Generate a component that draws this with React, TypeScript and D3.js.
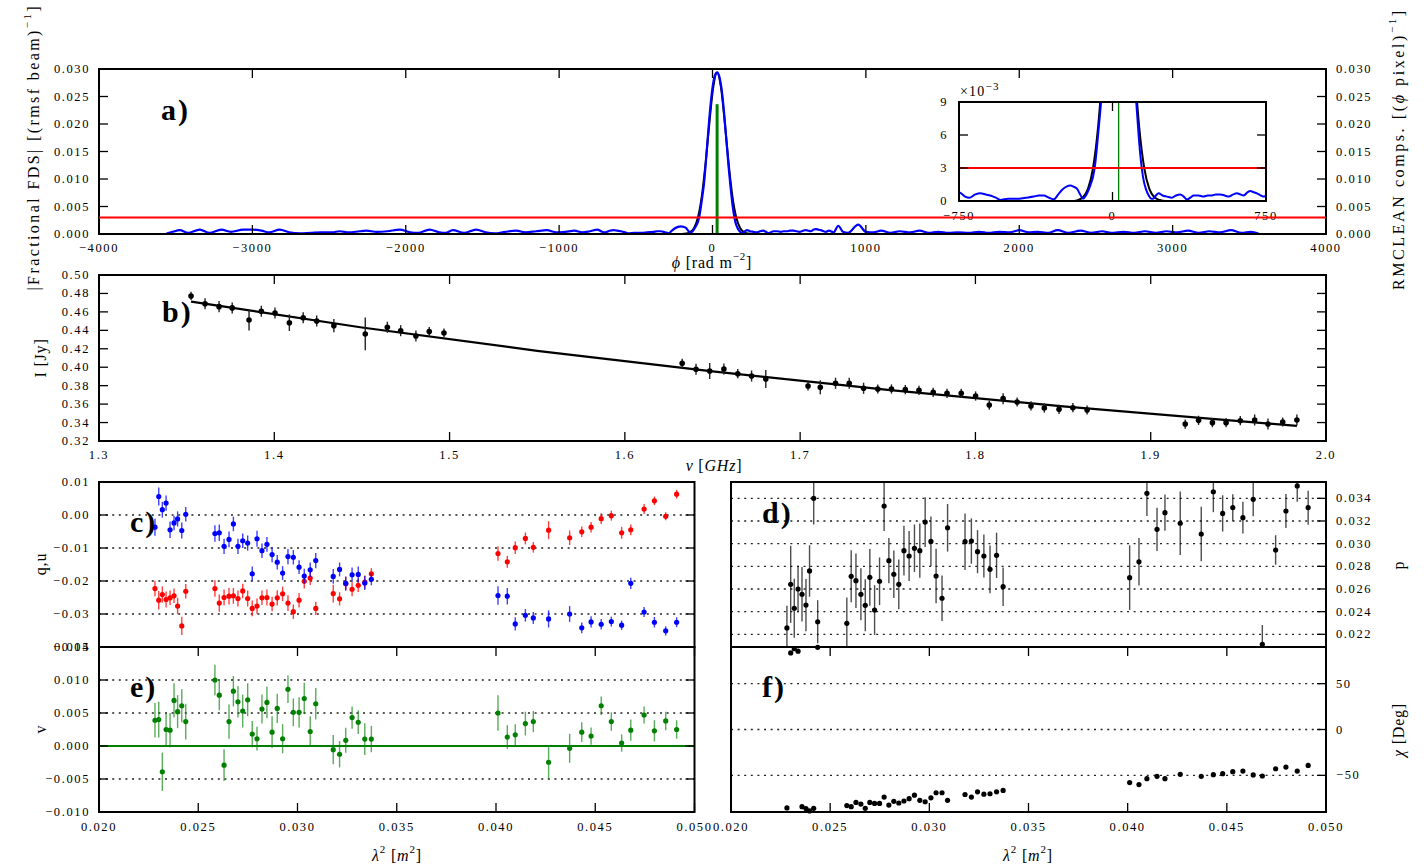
import React from "react";
import * as d3 from "d3";

const FONT = "'Liberation Serif','Times New Roman',serif";

// ---------------- Panel a : Faraday dispersion spectrum ----------------
const fdsPhi = [
  -3560, -3520, -3473, -3420, -3343, -3280, -3202, -3140, -3060, -3002, -2940, -2890, -2822, -2760, -2690, -2620,
  -2550, -2480, -2431, -2370, -2300, -2257, -2190, -2120, -2040, -1970, -1920, -1845, -1780, -1740, -1693, -1620,
  -1541, -1480, -1420, -1350, -1280, -1220, -1150, -1080, -1020, -960, -900, -850, -800,
  -750, -720, -700, -670, -646, -620, -597, -570, -548, -510, -467, -425, -385, -360, -336, -310, -287, -265, -247,
  -225, -206, -190, -173, -158, -144, -130, -117, -105, -95, -85, -76, -66, -56, -45, -30, -15, 0, 15, 30, 45, 60,
  75, 90, 105, 116, 128, 138, 149, 163, 177, 190, 198, 212, 225, 245, 266, 290, 310, 331, 348, 364, 380, 397, 420,
  445, 465, 486, 505, 527, 548, 568, 590, 608, 625, 641, 660, 673, 690, 706, 725, 739, 760,
  790, 820, 850, 883, 950, 1000, 1050, 1100, 1160, 1220, 1290, 1350, 1410, 1470, 1540, 1600, 1670, 1740, 1800,
  1870, 1940, 2000, 2060, 2120, 2190, 2250, 2320, 2400, 2470, 2540, 2600, 2680, 2750, 2820, 2890, 2960, 3030,
  3100, 3170, 3240, 3310, 3380, 3450, 3510, 3560,
];
const fdsAmp = [
  0.0001, 0.0004, 0.0007, 0.0002, 0.0008, 0.0002, 0.0008, 0.0004, 0.0008, 0.0008, 0.0006, 0.0003, 0.0008, 0.0003, 0.0001, 0.0002,
  0.0003, 0.0003, 0.0005, 0.0003, 0.0005, 0.0006, 0.0004, 0.0005, 0.0008, 0.0003, 0.0002, 0.0008, 0.0003, 0.0002, 0.0007, 0.0002,
  0.0008, 0.0003, 0.0001, 0.0004, 0.0006, 0.0003, 0.0005, 0.0007, 0.0003, 0.0004, 0.0006, 0.0003, 0.0005,
  0.0008, 0.0004, 0.0003, 0.0006, 0.0007, 0.0006, 0.0005, 0.0003, 0.0001, 0.0002, 0.0002, 0.0003, 0.0004, 0.0005, 0.0005, 0.0003, 0.00015, 0.0006, 0.001,
  0.0013, 0.0014, 0.0013, 0.0011, 0.0006, 0.0002, 0.0005, 0.001, 0.0016, 0.0022, 0.0033, 0.0049, 0.0069, 0.009, 0.0125, 0.0178, 0.0228, 0.0266, 0.0288, 0.0294, 0.0286, 0.0262,
  0.0222, 0.0172, 0.0122, 0.009, 0.0059, 0.0038, 0.0022, 0.0011, 0.0005, 0.0002, 0.0002, 0.0005, 0.0007, 0.0005, 0.0004, 0.0003, 0.0005, 0.0006, 0.0004, 0.00015, 0.0003, 0.0005, 0.0005,
  0.0004, 0.0005, 0.0005, 0.0006, 0.0006, 0.0005, 0.0004, 0.0006, 0.0007, 0.0006, 0.0005, 0.0008, 0.0009, 0.0008, 0.0007, 0.0005, 0.0004, 0.0006,
  0.0003, 0.0015, 0.0004, 0.0002, 0.0017, 0.0004, 0.0003, 0.0006, 0.0002, 0.0005, 0.0003, 0.0006, 0.0002, 0.0004, 0.0002, 0.0003, 0.0002, 0.0004, 0.0002,
  0.0004, 0.0003, 0.0007, 0.0003, 0.0004, 0.0002, 0.0007, 0.0002, 0.0006, 0.0002, 0.0005, 0.0002, 0.0004, 0.0002, 0.0005, 0.0002, 0.0005, 0.0003,
  0.0006, 0.0002, 0.0005, 0.0003, 0.0007, 0.0002, 0.0004, 0.0001,
];
const modelPhi = [-3560, -200, -170, -145, -120, -95, -70, -45, -20, 5, 30, 55, 80, 105, 130, 155, 180, 205, 230, 260, 3560];
const modelAmp = [0, 0, 0.00008, 0.00034, 0.0011, 0.003, 0.0068, 0.0129, 0.0203, 0.0267, 0.0293, 0.0267, 0.0203, 0.0129, 0.0068, 0.003, 0.0011, 0.00034, 0.00009, 0, 0];
const cleanCompPhi = [30];
const cleanCompAmp = [0.0236];
const thresholdLevel = [0.003];

const aXTicks = [-4000, -3000, -2000, -1000, 0, 1000, 2000, 3000, 4000];
const aYTicks = [0, 0.005, 0.01, 0.015, 0.02, 0.025, 0.03];
const insetXTicks = [-750, 0, 750];
const insetYTicks = [0, 3, 6, 9];

// ---------------- Panel b : Stokes I ----------------
const freqGHz = [
  1.3525, 1.3605, 1.3685, 1.376, 1.3856, 1.3926, 1.4004, 1.4086, 1.4165, 1.4242, 1.434, 1.4519, 1.4645, 1.4721, 1.4808, 1.4884, 1.4968,
  1.6327, 1.6406, 1.6484, 1.6565, 1.6644, 1.6723, 1.6804, 1.7045, 1.7115, 1.7202, 1.728, 1.7362, 1.7443, 1.7521, 1.76, 1.7678,
  1.7759, 1.7838, 1.7919, 1.8001, 1.8079, 1.8158, 1.8238, 1.8317, 1.8393, 1.8477, 1.8556, 1.8637, 1.9197, 1.9273, 1.9352, 1.943,
  1.9511, 1.9593, 1.9669, 1.9753, 1.9834,
];
const stokesI = [
  0.4773, 0.4689, 0.4657, 0.4643, 0.4512, 0.4607, 0.4588, 0.4483, 0.4537, 0.4501, 0.4451, 0.4361, 0.4433, 0.4396, 0.4339, 0.4386, 0.4371,
  0.4043, 0.3978, 0.3959, 0.3981, 0.393, 0.3905, 0.3872, 0.3797, 0.3782, 0.3826, 0.3826, 0.3772, 0.3764, 0.3764, 0.3757, 0.375,
  0.3728, 0.3717, 0.3717, 0.3688, 0.359, 0.3659, 0.3623, 0.358, 0.3558, 0.3544, 0.3561, 0.3536, 0.3384, 0.3424, 0.3399, 0.3399,
  0.342, 0.3428, 0.3384, 0.3406, 0.3428,
];
const stokesIErr = [
  0.0045, 0.006, 0.006, 0.006, 0.0115, 0.006, 0.006, 0.009, 0.006, 0.006, 0.0072, 0.0177, 0.006, 0.006, 0.006, 0.005, 0.005,
  0.005, 0.006, 0.0087, 0.006, 0.005, 0.006, 0.0098, 0.005, 0.0076, 0.006, 0.006, 0.006, 0.005, 0.005, 0.005, 0.005,
  0.005, 0.005, 0.005, 0.005, 0.005, 0.006, 0.005, 0.005, 0.005, 0.005, 0.005, 0.005, 0.005, 0.005, 0.005, 0.005,
  0.005, 0.006, 0.006, 0.005, 0.006,
];
const fitNu = [1.3525, 1.45, 1.55, 1.65, 1.75, 1.85, 1.9834];
const fitI = [0.4711, 0.4431, 0.4178, 0.3955, 0.3755, 0.3576, 0.3363];
const bXTicks = [1.3, 1.4, 1.5, 1.6, 1.7, 1.8, 1.9, 2.0];
const bYTicks = [0.32, 0.34, 0.36, 0.38, 0.4, 0.42, 0.44, 0.46, 0.48, 0.5];

// ---------------- Panels c-f : versus lambda^2 ----------------
const lambda2 = [
  0.02282, 0.02301, 0.02319, 0.02338, 0.02358, 0.02378, 0.02396, 0.02417, 0.02437,
  0.02584, 0.02606, 0.0263, 0.02655, 0.02677, 0.027, 0.02724, 0.02749, 0.02772, 0.02796, 0.02821, 0.02846, 0.02872,
  0.02898, 0.02925, 0.02952, 0.02979, 0.03008, 0.03034, 0.03064, 0.03092,
  0.0318, 0.03212, 0.03243, 0.03275, 0.03306, 0.03339, 0.03372,
  0.0401, 0.04057, 0.04097, 0.04148, 0.04188, 0.04265, 0.04371, 0.04432, 0.04479, 0.0453, 0.04581, 0.04633, 0.04679,
  0.04746, 0.04798, 0.04855, 0.0491,
];
const qVals = [
  -0.0223, -0.0258, -0.0241, -0.0256, -0.0251, -0.0245, -0.0276, -0.0336, -0.0231,
  -0.0223, -0.0267, -0.025, -0.0246, -0.0245, -0.0253, -0.023, -0.0253, -0.0283, -0.0276, -0.0251, -0.025, -0.027,
  -0.0251, -0.0239, -0.0267, -0.0293, -0.0258, -0.0201, -0.0191, -0.0283,
  -0.0238, -0.0254, -0.0208, -0.0225, -0.0213, -0.0203, -0.0178,
  -0.0117, -0.0142, -0.0099, -0.0071, -0.0098, -0.0046, -0.0069, -0.0051, -0.0037, -0.0011, -0.0002, -0.0054, -0.0045,
  0.0018, 0.0043, -0.0004, 0.0063,
];
const qErr = [
  0.0023, 0.0028, 0.0025, 0.0024, 0.0022, 0.0022, 0.0025, 0.0028, 0.0022,
  0.0025, 0.0026, 0.0024, 0.0025, 0.0024, 0.0024, 0.0022, 0.0024, 0.0024, 0.0023, 0.0022, 0.0024, 0.0022,
  0.0023, 0.0022, 0.0024, 0.0022, 0.0022, 0.0022, 0.0021, 0.002,
  0.0027, 0.002, 0.0022, 0.0021, 0.002, 0.002, 0.0017,
  0.0022, 0.0018, 0.0019, 0.0018, 0.0016, 0.0027, 0.0022, 0.0016, 0.0016, 0.0016, 0.0015, 0.0018, 0.0016,
  0.0015, 0.0013, 0.0012, 0.0013,
];
const uVals = [
  -0.0037, 0.0056, 0.0016, 0.0036, -0.0045, -0.0024, -0.0012, -0.0047, 0.0002,
  -0.0056, -0.0054, -0.0095, -0.0074, -0.0027, -0.0095, -0.0078, -0.0085, -0.0178, -0.0072, -0.0108, -0.0089, -0.012,
  -0.0143, -0.0176, -0.0126, -0.0128, -0.0158, -0.0185, -0.0166, -0.0138,
  -0.0186, -0.0165, -0.0207, -0.0181, -0.018, -0.0206, -0.0195,
  -0.0244, -0.0246, -0.033, -0.0304, -0.0312, -0.0315, -0.03, -0.0342, -0.0324, -0.0331, -0.0323, -0.0334, -0.0207,
  -0.0294, -0.0325, -0.0351, -0.0325,
];
const uErr = [
  0.0026, 0.0027, 0.0024, 0.0023, 0.0025, 0.0022, 0.0023, 0.0024, 0.0022,
  0.0025, 0.0025, 0.0023, 0.0024, 0.0022, 0.0023, 0.0022, 0.0023, 0.0022, 0.0024, 0.0022, 0.0022, 0.0023,
  0.0022, 0.0021, 0.0023, 0.0022, 0.0021, 0.0022, 0.0022, 0.0023,
  0.0022, 0.0021, 0.002, 0.0022, 0.0024, 0.0021, 0.0018,
  0.0028, 0.0025, 0.002, 0.0019, 0.0018, 0.0026, 0.0024, 0.0016, 0.0017, 0.0016, 0.0015, 0.0014, 0.0017,
  0.0015, 0.0016, 0.0014, 0.0015,
];
const vVals = [
  0.0039, 0.004, -0.0039, 0.0025, 0.0024, 0.0069, 0.0052, 0.0061, 0.0037,
  0.01, 0.0077, -0.0029, 0.0037, 0.0083, 0.0067, 0.0053, 0.007, 0.0018, 0.0011, 0.0056, 0.0066, 0.0021,
  0.0057, 0.0011, 0.0086, 0.0051, 0.0051, 0.0072, 0.0022, 0.0064,
  -0.00055, -0.00125, 0.00086, 0.0043, 0.0036, 0.00105, 0.00105,
  0.005, 0.00136, 0.0017, 0.0034, 0.0037, -0.00246, -0.00035, 0.0021, 0.0015, 0.0061, 0.0037, 0.00045, 0.0024,
  0.0047, 0.0023, 0.0038, 0.0025,
];
const vErr = [
  0.0026, 0.0027, 0.0029, 0.0025, 0.0026, 0.0026, 0.0025, 0.0025, 0.0027,
  0.0023, 0.0023, 0.0024, 0.0026, 0.0023, 0.0024, 0.0025, 0.0025, 0.002, 0.0018, 0.0022, 0.0024, 0.0024,
  0.0022, 0.0022, 0.0021, 0.0021, 0.0023, 0.0024, 0.0023, 0.0024,
  0.0022, 0.002, 0.0019, 0.0017, 0.0018, 0.0024, 0.002,
  0.0027, 0.0018, 0.0016, 0.0018, 0.0016, 0.0025, 0.0022, 0.0015, 0.0013, 0.0014, 0.0014, 0.0013, 0.0016,
  0.0013, 0.0016, 0.0014, 0.0014,
];
const pVals = [
  0.02256, 0.02641, 0.0243, 0.026, 0.02553, 0.02458, 0.02759, 0.034, 0.02311,
  0.02297, 0.02712, 0.02673, 0.02553, 0.02456, 0.02703, 0.02414, 0.02668, 0.03332, 0.0285, 0.0273, 0.02641, 0.02938,
  0.02891, 0.02959, 0.02938, 0.0319, 0.0302, 0.02714, 0.02518, 0.0314,
  0.03017, 0.03023, 0.02929, 0.02891, 0.02773, 0.02897, 0.0262,
  0.027, 0.0284, 0.03444, 0.03126, 0.03273, 0.0318, 0.03085, 0.03458, 0.03267, 0.03317, 0.03229, 0.03391, 0.02112,
  0.02944, 0.03288, 0.03509, 0.03317,
];
const pErr = [
  0.00196, 0.0034, 0.0026, 0.00206, 0.0024, 0.0023, 0.00227, 0.0023, 0.0019,
  0.00227, 0.0023, 0.0024, 0.0023, 0.0023, 0.0025, 0.0022, 0.0021, 0.0022, 0.002, 0.0021, 0.0022, 0.0022,
  0.0022, 0.0021, 0.0024, 0.0022, 0.0022, 0.0024, 0.002, 0.0021,
  0.0025, 0.002, 0.0019, 0.0019, 0.0021, 0.002, 0.0017,
  0.00285, 0.0021, 0.002, 0.0019, 0.0016, 0.0028, 0.0024, 0.0018, 0.0016, 0.0012, 0.0014, 0.0015, 0.0017,
  0.0013, 0.0015, 0.0014, 0.0015,
];
const chiDeg = [
  -85.6, 83.5, 88.1, 85.5, -84.2, -86.3, -88.8, -86, 89.7,
  -83, -84.2, -79.5, -81.3, -86, -79.5, -80.6, -80.6, -73.7, -82.4, -78.4, -80.2, -78,
  -75.5, -71.6, -77.3, -78.8, -74.5, -69, -69, -77.3,
  -70.9, -73.7, -68, -70.5, -70.1, -68, -66.5,
  -57.9, -60.1, -53.6, -51.1, -53.6, -48.9, -51.1, -49.3, -48.2, -46, -45.3, -49.6, -50.7,
  -42.8, -41, -45.3, -39.2,
];
const lamTicks = [0.02, 0.025, 0.03, 0.035, 0.04, 0.045, 0.05];
const cYTicks = [0.01, 0.0, -0.01, -0.02, -0.03, -0.04];
const cGrid = [0.0, -0.01, -0.02, -0.03];
const eYTicks = [0.015, 0.01, 0.005, 0.0, -0.005, -0.01];
const eGrid = [0.01, 0.005, -0.005];
const dYTicks = [0.022, 0.024, 0.026, 0.028, 0.03, 0.032, 0.034];
const fYTicks = [50, 0, -50];

// ---------------- layout ----------------
const PA = { l: 99, r: 1326, t: 69, b: 234 };
const PI = { l: 959, r: 1266, t: 102, b: 201 };
const PB = { l: 99, r: 1326, t: 275, b: 441 };
const PC = { l: 99, r: 694.5, t: 482, b: 647 };
const PE = { l: 99, r: 694.5, t: 647, b: 812 };
const PD = { l: 731, r: 1326, t: 482, b: 647 };
const PF = { l: 731, r: 1326, t: 647, b: 812 };

const TICK = { fontFamily: FONT, fontSize: 12.5, letterSpacing: 1.6, fill: "#000" } as const;
const TITLE = { fontFamily: FONT, fontSize: 16, letterSpacing: 0.8, fill: "#000" } as const;
const PANEL = { fontFamily: FONT, fontSize: 30, fontWeight: 700, letterSpacing: 2, fill: "#000" } as const;

const minus = (s: string) => s.replace(/-/g, "\u2212");

type Box = { l: number; r: number; t: number; b: number };
type S = d3.ScaleLinear<number, number>;

function Frame({ p, sw = 2 }: { p: Box; sw?: number }) {
  return <rect x={p.l} y={p.t} width={p.r - p.l} height={p.b - p.t} fill="none" stroke="#000" strokeWidth={sw} />;
}

function XTicks({ p, s, vals, top = true, bottom = true, len = 8 }: { p: Box; s: S; vals: number[]; top?: boolean; bottom?: boolean; len?: number }) {
  return (
    <g stroke="#000" strokeWidth={1.3}>
      {vals.map((v, i) => (
        <g key={i}>
          {bottom && <line x1={s(v)} x2={s(v)} y1={p.b} y2={p.b - len} />}
          {top && <line x1={s(v)} x2={s(v)} y1={p.t} y2={p.t + len} />}
        </g>
      ))}
    </g>
  );
}
function YTicks({ p, s, vals, left = true, right = true, len = 8 }: { p: Box; s: S; vals: number[]; left?: boolean; right?: boolean; len?: number }) {
  return (
    <g stroke="#000" strokeWidth={1.3}>
      {vals.map((v, i) => (
        <g key={i}>
          {left && <line y1={s(v)} y2={s(v)} x1={p.l} x2={p.l + len} />}
          {right && <line y1={s(v)} y2={s(v)} x1={p.r} x2={p.r - len} />}
        </g>
      ))}
    </g>
  );
}
function XLabels({ s, vals, y, fmt }: { s: S; vals: number[]; y: number; fmt: (v: number) => string }) {
  return (
    <g>
      {vals.map((v, i) => (
        <text key={i} x={s(v)} y={y} textAnchor="middle" dominantBaseline="central" style={TICK}>
          {minus(fmt(v))}
        </text>
      ))}
    </g>
  );
}
function YLabels({ s, vals, x, fmt, anchor }: { s: S; vals: number[]; x: number; fmt: (v: number) => string; anchor: "start" | "end" }) {
  return (
    <g>
      {vals.map((v, i) => (
        <text key={i} x={x} y={s(v)} textAnchor={anchor} dominantBaseline="central" style={TICK}>
          {minus(fmt(v))}
        </text>
      ))}
    </g>
  );
}
function HGrid({ p, s, vals }: { p: Box; s: S; vals: number[] }) {
  return (
    <g stroke="#222" strokeWidth={1.3} strokeDasharray="2,4.6">
      {vals.map((v, i) => (
        <line key={i} x1={p.l} x2={p.r} y1={s(v)} y2={s(v)} />
      ))}
    </g>
  );
}
function ErrDots({ xs, ys, es, sx, sy, color, barColor, clip, r = 2.6 }: { xs: number[]; ys: number[]; es?: number[]; sx: S; sy: S; color: string; barColor?: string; clip?: string; r?: number }) {
  return (
    <g>
      {es && (
        <g clipPath={clip ? `url(#${clip})` : undefined} stroke={barColor || color} strokeWidth={1.4}>
          {xs.map((x, i) => (
            <line key={i} x1={sx(x)} x2={sx(x)} y1={sy(ys[i] - es[i])} y2={sy(ys[i] + es[i])} />
          ))}
        </g>
      )}
      <g fill={color}>
        {xs.map((x, i) => (
          <circle key={i} cx={sx(x)} cy={sy(ys[i])} r={r} />
        ))}
      </g>
    </g>
  );
}

export default function App() {
  // scales
  const ax = d3.scaleLinear().domain([-4000, 4000]).range([PA.l, PA.r]);
  const ay = d3.scaleLinear().domain([0, 0.03]).range([PA.b, PA.t]);
  const ix = d3.scaleLinear().domain([-750, 750]).range([PI.l, PI.r]);
  const iy = d3.scaleLinear().domain([0, 0.009]).range([PI.b, PI.t]);
  const iyLab = d3.scaleLinear().domain([0, 9]).range([PI.b, PI.t]);
  const bx = d3.scaleLinear().domain([1.3, 2.0]).range([PB.l, PB.r]);
  const by = d3.scaleLinear().domain([0.32, 0.5]).range([PB.b, PB.t]);
  const lx = d3.scaleLinear().domain([0.02, 0.05]).range([PC.l, PC.r]);
  const rx = d3.scaleLinear().domain([0.02, 0.05]).range([PD.l, PD.r]);
  const cy = d3.scaleLinear().domain([-0.04, 0.01]).range([PC.b, PC.t]);
  const ey = d3.scaleLinear().domain([-0.01, 0.015]).range([PE.b, PE.t]);
  const dy = d3.scaleLinear().domain([0.02088, 0.03544]).range([PD.b, PD.t]);
  const fy = d3.scaleLinear().domain([-90, 90]).range([PF.b, PF.t]);

  const fds = fdsPhi.map((p, i) => [p, fdsAmp[i]] as [number, number]);
  const model = modelPhi.map((p, i) => [p, modelAmp[i]] as [number, number]);
  const lineA = d3.line<[number, number]>().x((d) => ax(d[0])).y((d) => ay(d[1])).curve(d3.curveMonotoneX);
  const lineI = d3.line<[number, number]>().x((d) => ix(d[0])).y((d) => iy(d[1])).curve(d3.curveMonotoneX);
  const fit = fitNu.map((n, i) => [n, fitI[i]] as [number, number]);
  const lineB = d3.line<[number, number]>().x((d) => bx(d[0])).y((d) => by(d[1])).curve(d3.curveMonotoneX);

  const f3 = d3.format(".3f");
  const f2 = d3.format(".2f");
  const f1 = d3.format(".1f");
  const fd = d3.format("d");

  return (
    <svg width={1424} height={866} style={{ position: "absolute", left: 0, top: 0, background: "#fff" }}>
      <defs>
        <clipPath id="clipA"><rect x={PA.l} y={PA.t} width={PA.r - PA.l} height={PA.b - PA.t} /></clipPath>
        <clipPath id="clipI"><rect x={PI.l} y={PI.t} width={PI.r - PI.l} height={PI.b - PI.t} /></clipPath>
        <clipPath id="clipD"><rect x={PD.l} y={PD.t} width={PD.r - PD.l} height={PD.b - PD.t} /></clipPath>
        <clipPath id="clipB"><rect x={PB.l} y={PB.t} width={PB.r - PB.l} height={PB.b - PB.t} /></clipPath>
      </defs>
      <rect x={0} y={0} width={1424} height={866} fill="#fff" />

      {/* ---------- panel a ---------- */}
      <g clipPath="url(#clipA)">
        <path d={lineA(model) || ""} fill="none" stroke="#000" strokeWidth={2} />
        <path d={lineA(fds) || ""} fill="none" stroke="#0000ff" strokeWidth={2.2} />
        {cleanCompPhi.map((p, i) => (
          <line key={i} x1={ax(p)} x2={ax(p)} y1={ay(0)} y2={ay(cleanCompAmp[i])} stroke="#008000" strokeWidth={3} />
        ))}
      </g>
      <Frame p={PA} />
      <XTicks p={PA} s={ax} vals={aXTicks} len={9} />
      <YTicks p={PA} s={ay} vals={aYTicks} len={9} />
      <XLabels s={ax} vals={aXTicks} y={PA.b + 14} fmt={fd} />
      <YLabels s={ay} vals={aYTicks} x={PA.l - 9} fmt={f3} anchor="end" />
      <YLabels s={ay} vals={aYTicks} x={PA.r + 10} fmt={f3} anchor="start" />
      <text x={161} y={119.5} style={PANEL}>a)</text>

      {/* inset */}
      <rect x={PI.l} y={PI.t} width={PI.r - PI.l} height={PI.b - PI.t} fill="#fff" />
      <g clipPath="url(#clipI)">
        <path d={lineI(model) || ""} fill="none" stroke="#000" strokeWidth={2} />
        <path d={lineI(fds) || ""} fill="none" stroke="#0000ff" strokeWidth={2} />
        {cleanCompPhi.map((p, i) => (
          <line key={i} x1={ix(p)} x2={ix(p)} y1={iy(0)} y2={iy(cleanCompAmp[i])} stroke="#008000" strokeWidth={1.3} />
        ))}
        {thresholdLevel.map((t, i) => (
          <line key={i} x1={PI.l} x2={PI.r} y1={iy(t)} y2={iy(t)} stroke="#ff0000" strokeWidth={1.8} />
        ))}
      </g>
      <Frame p={PI} sw={2} />
      <XTicks p={PI} s={ix} vals={insetXTicks} len={9} />
      <YTicks p={PI} s={iyLab} vals={insetYTicks} len={9} />
      <XLabels s={ix} vals={insetXTicks} y={PI.b + 15} fmt={fd} />
      <YLabels s={iyLab} vals={insetYTicks} x={PI.l - 11} fmt={fd} anchor="end" />
      <text x={PI.l + 1} y={PI.t - 6} style={{ ...TICK, fontSize: 14, letterSpacing: 1.2 }}>
        ×10<tspan dy={-6} fontSize={11}>−3</tspan>
      </text>

      {/* threshold in main panel, drawn over inset labels */}
      <g clipPath="url(#clipA)">
        {thresholdLevel.map((t, i) => (
          <line key={i} x1={PA.l} x2={PA.r} y1={ay(t)} y2={ay(t)} stroke="#ff0000" strokeWidth={2} />
        ))}
      </g>

      {/* axis titles for a */}
      <text x={712} y={262} textAnchor="middle" dominantBaseline="central" style={TITLE}>
        <tspan fontStyle="italic">ϕ</tspan> [rad m<tspan dy={-6} fontSize={11}>−2</tspan><tspan dy={6}>]</tspan>
      </text>
      <text transform="translate(33,148) rotate(-90)" textAnchor="middle" dominantBaseline="central" style={TITLE} textLength={285} lengthAdjust="spacing">
        |Fractional FDS| [(rmsf beam)<tspan dy={-6} fontSize={11}>−1</tspan><tspan dy={6}>]</tspan>
      </text>
      <text transform="translate(1398,150) rotate(-90)" textAnchor="middle" dominantBaseline="central" style={TITLE} textLength={280} lengthAdjust="spacing">
        RMCLEAN comps. [(<tspan fontStyle="italic">ϕ</tspan> pixel)<tspan dy={-6} fontSize={11}>−1</tspan><tspan dy={6}>]</tspan>
      </text>

      {/* ---------- panel b ---------- */}
      <path d={lineB(fit) || ""} fill="none" stroke="#000" strokeWidth={2.2} />
      <ErrDots xs={freqGHz} ys={stokesI} es={stokesIErr} sx={bx} sy={by} color="#000" barColor="#222" clip="clipB" r={2.8} />
      <Frame p={PB} />
      <XTicks p={PB} s={bx} vals={bXTicks} len={9} />
      <YTicks p={PB} s={by} vals={bYTicks} len={9} />
      <XLabels s={bx} vals={bXTicks} y={PB.b + 14} fmt={f1} />
      <YLabels s={by} vals={bYTicks} x={PB.l - 9} fmt={f2} anchor="end" />
      <text x={162} y={322} style={PANEL}>b)</text>
      <text x={714} y={465} textAnchor="middle" dominantBaseline="central" style={TITLE}>
        <tspan fontStyle="italic">ν</tspan> [<tspan fontStyle="italic">GHz</tspan>]
      </text>
      <text transform="translate(40,358) rotate(-90)" textAnchor="middle" dominantBaseline="central" style={TITLE}>I [Jy]</text>

      {/* ---------- panel c ---------- */}
      <HGrid p={PC} s={cy} vals={cGrid} />
      <ErrDots xs={lambda2} ys={qVals} es={qErr} sx={lx} sy={cy} color="#ff0000" barColor="rgba(255,0,0,0.75)" />
      <ErrDots xs={lambda2} ys={uVals} es={uErr} sx={lx} sy={cy} color="#0000ff" barColor="rgba(0,0,255,0.75)" />
      <Frame p={PC} />
      <YTicks p={PC} s={cy} vals={cYTicks} len={9} />
      <YLabels s={cy} vals={cYTicks} x={PC.l - 9} fmt={f2} anchor="end" />
      <text x={130} y={531.5} style={PANEL}>c)</text>
      <text transform="translate(40,564) rotate(-90)" textAnchor="middle" dominantBaseline="central" style={TITLE}>q,u</text>

      {/* ---------- panel e ---------- */}
      <HGrid p={PE} s={ey} vals={eGrid} />
      <line x1={PE.l} x2={PE.r} y1={ey(0)} y2={ey(0)} stroke="#008000" strokeWidth={2.2} />
      <ErrDots xs={lambda2} ys={vVals} es={vErr} sx={lx} sy={ey} color="#008000" barColor="rgba(0,128,0,0.65)" />
      <Frame p={PE} />
      <XTicks p={PE} s={lx} vals={lamTicks} len={9} />
      <YTicks p={PE} s={ey} vals={eYTicks} len={9} />
      <YLabels s={ey} vals={eYTicks} x={PE.l - 9} fmt={f3} anchor="end" />
      <XLabels s={lx} vals={lamTicks} y={PE.b + 15} fmt={f3} />
      <text x={130} y={697} style={PANEL}>e)</text>
      <text transform="translate(40,729) rotate(-90)" textAnchor="middle" dominantBaseline="central" style={TITLE}>v</text>
      <text x={397} y={855} textAnchor="middle" dominantBaseline="central" style={TITLE}>
        <tspan fontStyle="italic">λ</tspan><tspan dy={-6} fontSize={11}>2</tspan><tspan dy={6}> [</tspan><tspan fontStyle="italic">m</tspan><tspan dy={-6} fontSize={11}>2</tspan><tspan dy={6}>]</tspan>
      </text>

      {/* ---------- panel d ---------- */}
      <HGrid p={PD} s={dy} vals={dYTicks} />
      <ErrDots xs={lambda2} ys={pVals} es={pErr} sx={rx} sy={dy} color="#000" barColor="rgba(0,0,0,0.7)" clip="clipD" />
      <Frame p={PD} />
      <YTicks p={PD} s={dy} vals={dYTicks} len={9} left={false} />
      <YLabels s={dy} vals={dYTicks} x={PD.r + 10} fmt={f3} anchor="start" />
      <text x={762} y={523} style={PANEL}>d)</text>
      <text transform="translate(1398,565) rotate(-90)" textAnchor="middle" dominantBaseline="central" style={TITLE}>p</text>

      {/* ---------- panel f ---------- */}
      <HGrid p={PF} s={fy} vals={fYTicks} />
      <ErrDots xs={lambda2} ys={chiDeg} sx={rx} sy={fy} color="#000" r={2.6} />
      <Frame p={PF} />
      <XTicks p={PF} s={rx} vals={lamTicks} len={9} />
      <YTicks p={PF} s={fy} vals={fYTicks} len={9} left={false} />
      <YLabels s={fy} vals={fYTicks} x={PF.r + 10} fmt={fd} anchor="start" />
      <XLabels s={rx} vals={lamTicks} y={PF.b + 15} fmt={f3} />
      <text x={762} y={696.5} style={PANEL}>f)</text>
      <text transform="translate(1398,730) rotate(-90)" textAnchor="middle" dominantBaseline="central" style={TITLE}>
        <tspan fontStyle="italic">χ</tspan> [Deg]
      </text>
      <text x={1028} y={855} textAnchor="middle" dominantBaseline="central" style={TITLE}>
        <tspan fontStyle="italic">λ</tspan><tspan dy={-6} fontSize={11}>2</tspan><tspan dy={6}> [</tspan><tspan fontStyle="italic">m</tspan><tspan dy={-6} fontSize={11}>2</tspan><tspan dy={6}>]</tspan>
      </text>
    </svg>
  );
}
